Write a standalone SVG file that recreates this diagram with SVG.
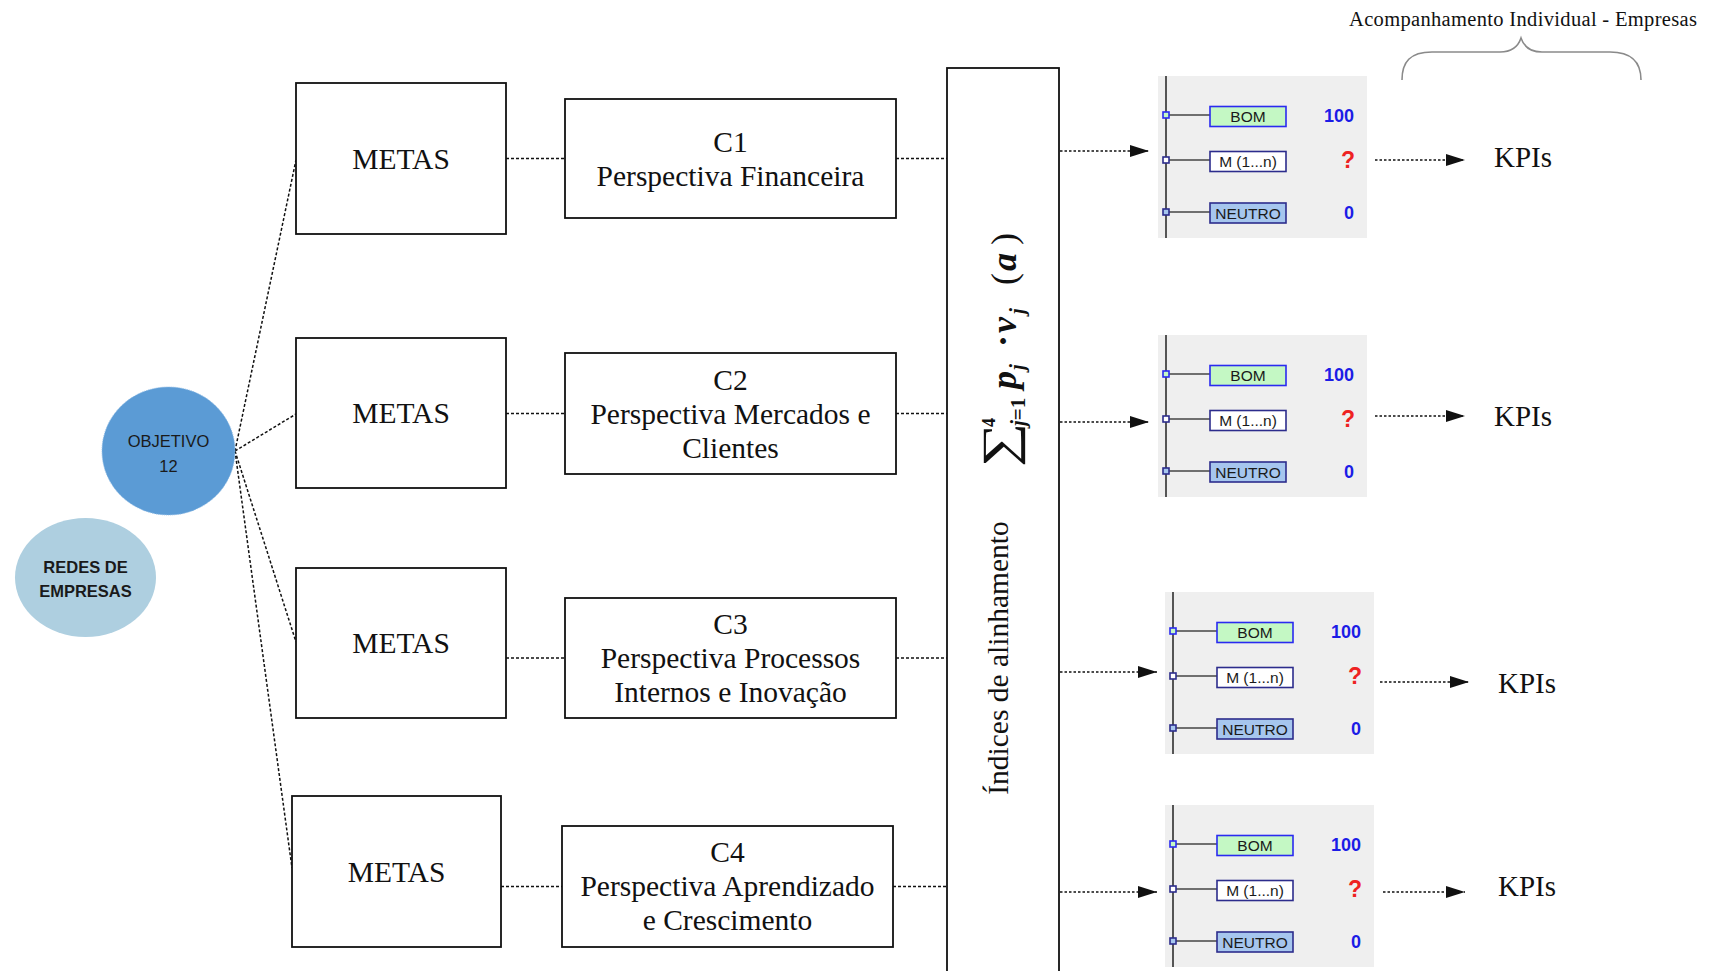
<svg xmlns="http://www.w3.org/2000/svg" width="1720" height="971" viewBox="0 0 1720 971">
  <defs>
    <style>
      .box { fill: #ffffff; stroke: #111111; stroke-width: 1.8; }
      .serif { font-family: "Liberation Serif", "Times New Roman", serif; fill: #111111; }
      .big { font-size: 29.5px; text-anchor: middle; }
      .link { fill: none; stroke: #111111; stroke-width: 1.5; stroke-dasharray: 3 2; }
      .flow { fill: none; stroke: #111111; stroke-width: 1.5; stroke-dasharray: 2.5 2; }
      .panel-bg { fill: #efefef; }
      .rail { stroke: #555555; stroke-width: 2; }
      .stub { stroke: #444444; stroke-width: 1.5; }
      .lbl { font-family: "Liberation Sans", Arial, sans-serif; font-size: 15.5px; text-anchor: middle; fill: #1a1a1a; }
      .val { font-family: "Liberation Sans", Arial, sans-serif; font-weight: bold; text-anchor: end; }
      .good { fill: #c4f8c4; stroke: #2a2af0; stroke-width: 1.6; }
      .mid { fill: #ffffff; stroke: #2c2c8c; stroke-width: 1.6; }
      .neutral { fill: #a6c6ee; stroke: #2c2c8c; stroke-width: 1.6; }
      .kpi { font-family: "Liberation Serif", "Times New Roman", serif; font-size: 29px; fill: #111111; }
      .bubble { font-family: "Liberation Sans", Arial, sans-serif; font-size: 16.5px; text-anchor: middle; fill: #1a1a1a; }
      .bi { font-weight: bold; font-style: italic; }
    </style>
    <marker id="arrow" markerUnits="userSpaceOnUse" markerWidth="20" markerHeight="12" refX="19" refY="6" orient="auto">
      <path d="M0,0 L19,6 L0,12 Z" fill="#111111"/>
    </marker>
    <!-- one indicator panel: rail, three level rows and their values -->
    <g id="panel">
      <rect class="panel-bg" x="-8" y="0" width="209" height="162"/>
      <line class="rail" x1="0" y1="0" x2="0" y2="162"/>
      <line class="stub" x1="3" y1="39" x2="44" y2="39"/>
      <line class="stub" x1="3" y1="84" x2="44" y2="84"/>
      <line class="stub" x1="3" y1="136" x2="44" y2="136"/>
      <rect class="good" x="-3" y="36" width="6" height="6"/>
      <rect class="mid" x="-3" y="81" width="6" height="6"/>
      <rect class="neutral" x="-3" y="133" width="6" height="6"/>
      <rect class="good" x="44" y="30.5" width="76" height="20"/>
      <rect class="mid" x="44" y="75.5" width="76" height="20"/>
      <rect class="neutral" x="44" y="127" width="76" height="20"/>
      <text class="lbl" x="82" y="46">BOM</text>
      <text class="lbl" x="82" y="91">M (1...n)</text>
      <text class="lbl" x="82" y="142.5">NEUTRO</text>
      <text class="val" x="188" y="46" font-size="18" fill="#1c1ce6">100</text>
      <text class="val" x="189" y="92" font-size="23" fill="#ee2222">?</text>
      <text class="val" x="188" y="142.5" font-size="18" fill="#1c1ce6">0</text>
    </g>
  </defs>

  <rect width="1720" height="971" fill="#ffffff"/>

  <!-- header and brace over the individual tracking column -->
  <g id="header">
    <text class="serif" x="1349" y="26" font-size="20.5" textLength="348" lengthAdjust="spacing">Acompanhamento Individual - Empresas</text>
    <path d="M1402,80 C1402,62 1410,52 1432,52 L1500,52 C1512,52 1518,47 1521,38 C1524,47 1530,52 1542,52 L1610,52 C1632,52 1641,62 1641,80" fill="none" stroke="#8a8a8a" stroke-width="1.6"/>
  </g>

  <!-- connectors -->
  <g id="connectors">
    <line class="link" x1="235" y1="451" x2="296" y2="160"/>
    <line class="link" x1="235" y1="451" x2="296" y2="414"/>
    <line class="link" x1="235" y1="451" x2="296" y2="642"/>
    <line class="link" x1="235" y1="451" x2="292" y2="868"/>

    <line class="link" x1="506" y1="158.5" x2="565" y2="158.5"/>
    <line class="link" x1="506" y1="413.5" x2="565" y2="413.5"/>
    <line class="link" x1="506" y1="658" x2="565" y2="658"/>
    <line class="link" x1="501" y1="886.5" x2="562" y2="886.5"/>

    <line class="link" x1="896" y1="158.5" x2="947" y2="158.5"/>
    <line class="link" x1="896" y1="413.5" x2="947" y2="413.5"/>
    <line class="link" x1="896" y1="658" x2="947" y2="658"/>
    <line class="link" x1="893" y1="886.5" x2="947" y2="886.5"/>

    <line class="flow" x1="1060" y1="151" x2="1149" y2="151" marker-end="url(#arrow)"/>
    <line class="flow" x1="1060" y1="422" x2="1149" y2="422" marker-end="url(#arrow)"/>
    <line class="flow" x1="1060" y1="672" x2="1157" y2="672" marker-end="url(#arrow)"/>
    <line class="flow" x1="1060" y1="892" x2="1157" y2="892" marker-end="url(#arrow)"/>

    <line class="flow" x1="1375" y1="160" x2="1465" y2="160" marker-end="url(#arrow)"/>
    <line class="flow" x1="1375" y1="416" x2="1465" y2="416" marker-end="url(#arrow)"/>
    <line class="flow" x1="1380" y1="682" x2="1469" y2="682" marker-end="url(#arrow)"/>
    <line class="flow" x1="1383" y1="892" x2="1465" y2="892" marker-end="url(#arrow)"/>
  </g>

  <!-- network and objective bubbles -->
  <g id="redes">
    <ellipse cx="85.5" cy="577.5" rx="70.5" ry="59.5" fill="#aecfe0"/>
    <text class="bubble" x="85.5" y="572.5" font-weight="bold">REDES DE</text>
    <text class="bubble" x="85.5" y="596.5" font-weight="bold">EMPRESAS</text>
  </g>
  <g id="objetivo">
    <ellipse cx="168.5" cy="451" rx="66.5" ry="64" fill="#5b9bd5" stroke="#8dbbe6" stroke-width="1" stroke-dasharray="1 1"/>
    <text class="bubble" x="168.5" y="446.5">OBJETIVO</text>
    <text class="bubble" x="168.5" y="471.5">12</text>
  </g>

  <!-- goal boxes -->
  <g id="metas1">
    <rect class="box" x="296" y="83" width="210" height="151"/>
    <text class="serif big" x="401" y="168.5">METAS</text>
  </g>
  <g id="metas2">
    <rect class="box" x="296" y="338" width="210" height="150"/>
    <text class="serif big" x="401" y="423">METAS</text>
  </g>
  <g id="metas3">
    <rect class="box" x="296" y="568" width="210" height="150"/>
    <text class="serif big" x="401" y="653">METAS</text>
  </g>
  <g id="metas4">
    <rect class="box" x="292" y="796" width="209" height="151"/>
    <text class="serif big" x="396.5" y="881.5">METAS</text>
  </g>

  <!-- perspective boxes -->
  <g id="c1">
    <rect class="box" x="565" y="99" width="331" height="119"/>
    <text class="serif big" x="730.5" y="151.5">C1</text>
    <text class="serif big" x="730.5" y="185.5">Perspectiva Financeira</text>
  </g>
  <g id="c2">
    <rect class="box" x="565" y="353" width="331" height="121"/>
    <text class="serif big" x="730.5" y="389.5">C2</text>
    <text class="serif big" x="730.5" y="423.5">Perspectiva Mercados e</text>
    <text class="serif big" x="730.5" y="457.5">Clientes</text>
  </g>
  <g id="c3">
    <rect class="box" x="565" y="598" width="331" height="120"/>
    <text class="serif big" x="730.5" y="634">C3</text>
    <text class="serif big" x="730.5" y="668">Perspectiva Processos</text>
    <text class="serif big" x="730.5" y="702">Internos e Inovação</text>
  </g>
  <g id="c4">
    <rect class="box" x="562" y="826" width="331" height="121"/>
    <text class="serif big" x="727.5" y="862">C4</text>
    <text class="serif big" x="727.5" y="896">Perspectiva Aprendizado</text>
    <text class="serif big" x="727.5" y="930">e Crescimento</text>
  </g>

  <!-- alignment index column -->
  <g id="indices">
    <rect class="box" x="947" y="68" width="112" height="920"/>
    <text class="serif big" transform="translate(1008,658) rotate(-90)">Índices de alinhamento</text>
    <!-- weighted sum, written along the column -->
    <g class="serif" transform="translate(1016,466) rotate(-90)">
      <text transform="translate(-1,-1) scale(1.3,1)" font-size="48">∑</text>
      <text x="39" y="-21" font-size="18" font-weight="bold">4</text>
      <text x="40" y="9" font-size="21" font-weight="bold"><tspan font-style="italic">j</tspan>=1</text>
      <text class="bi" x="77" y="0" font-size="36">p</text>
      <text class="bi" x="96" y="8" font-size="21">j</text>
      <text x="119" y="-1" font-size="36" font-weight="bold">·</text>
      <text class="bi" x="133" y="0" font-size="36">v</text>
      <text class="bi" x="152" y="8" font-size="21">j</text>
      <text x="181" y="0" font-size="36">(</text>
      <text class="bi" x="195" y="0" font-size="36">a</text>
      <text x="221" y="0" font-size="36">)</text>
    </g>
  </g>

  <!-- indicator panels -->
  <g id="panel1"><use href="#panel" x="1166" y="76"/></g>
  <g id="panel2"><use href="#panel" x="1166" y="335"/></g>
  <g id="panel3"><use href="#panel" x="1173" y="592"/></g>
  <g id="panel4"><use href="#panel" x="1173" y="805"/></g>

  <!-- KPI outputs -->
  <g id="kpi1"><text class="kpi" x="1494" y="167">KPIs</text></g>
  <g id="kpi2"><text class="kpi" x="1494" y="426">KPIs</text></g>
  <g id="kpi3"><text class="kpi" x="1498" y="693">KPIs</text></g>
  <g id="kpi4"><text class="kpi" x="1498" y="896">KPIs</text></g>
</svg>
